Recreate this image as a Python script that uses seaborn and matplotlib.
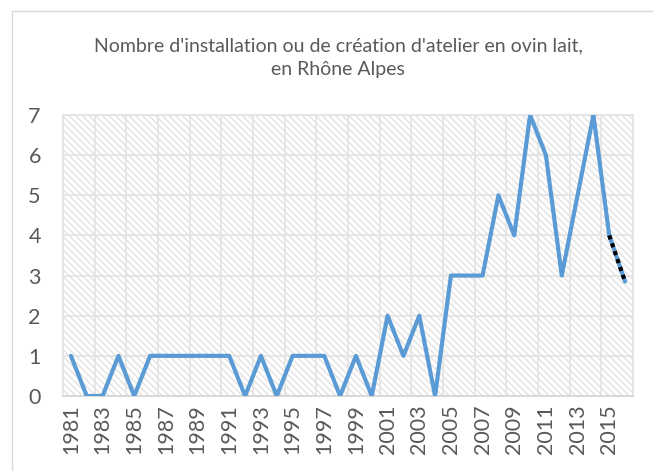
import numpy as np
import pandas as pd
import matplotlib
matplotlib.use("Agg")
import matplotlib.pyplot as plt
from matplotlib.patches import Rectangle
import seaborn as sns

# Data
years = list(range(1981, 2016))
counts = [1, 0, 0, 1, 0, 1, 1, 1, 1, 1, 1, 0, 1, 0, 1, 1, 1, 0, 1, 0,
          2, 1, 2, 0, 3, 3, 3, 5, 4, 7, 6, 3, 5, 7, 4]
proj_years = [2015, 2016]
proj_counts = [4, 2.85]
tick_years = list(range(1981, 2016, 2))

title = "Nombre d'installation ou de création d'atelier en ovin lait,\nen Rhône Alpes"

df = pd.DataFrame({"annee": years, "nombre": counts})
df_proj = pd.DataFrame({"annee": proj_years, "nombre": proj_counts})

sns.set_theme(style="white")
plt.rcParams["font.family"] = ["Lato", "DejaVu Sans"]

grey = "#595959"
blue = "#5B9BD5"

fig = plt.figure(figsize=(6.53, 4.71), dpi=100)
ax = fig.add_axes([63 / 653, 75 / 471, 570 / 653, 281 / 471])

# outer chart border
fig.patches.append(Rectangle((12 / 653, -0.1), 1.1, (471 - 11) / 471 + 0.1,
                             transform=fig.transFigure, fill=False,
                             edgecolor="#d9d9d9", lw=1.0, zorder=0))

# hatched plot background
ax.add_patch(Rectangle((0, 0), 1, 1, transform=ax.transAxes, facecolor="white",
                       edgecolor="#e2e2e2", hatch="\\\\\\\\\\", lw=0, zorder=0))

sns.lineplot(data=df, x="annee", y="nombre", ax=ax, color=blue, lw=3, zorder=3)
sns.lineplot(data=df_proj, x="annee", y="nombre", ax=ax, color=blue, lw=3, zorder=3)
sns.lineplot(data=df_proj, x="annee", y="nombre", ax=ax, color="black", lw=3,
             linestyle=(0, (1, 1)), zorder=4)

ax.set_xlim(1980.5, 2016.5)
ax.set_ylim(0, 7)
ax.set_xticks(tick_years)
ax.set_xticklabels([str(y) for y in tick_years], rotation=90, color=grey, fontsize=15.5)
ax.set_yticks(range(0, 8))
ax.set_yticklabels([str(v) for v in range(0, 8)], color=grey, fontsize=15.5)
ax.tick_params(axis="x", length=0, pad=6)
ax.tick_params(axis="y", length=0, pad=16)

for gx in np.arange(1982.5, 2016.5, 2):
    ax.axvline(gx, color="#e3e3e3", lw=1.2, zorder=1)
for gy in range(1, 8):
    ax.axhline(gy, color="#e3e3e3", lw=1.2, zorder=1)

for side in ["top", "right", "left"]:
    ax.spines[side].set_color("#e3e3e3")
    ax.spines[side].set_linewidth(1.2)
ax.spines["bottom"].set_color("#d9d9d9")
ax.spines["bottom"].set_linewidth(1.5)

ax.set_xlabel("")
ax.set_ylabel("")

fig.text(338 / 653, 1 - 58 / 471, title, ha="center", va="center",
         color=grey, fontsize=14, linespacing=1.45)

fig.savefig("out.png", dpi=100)
